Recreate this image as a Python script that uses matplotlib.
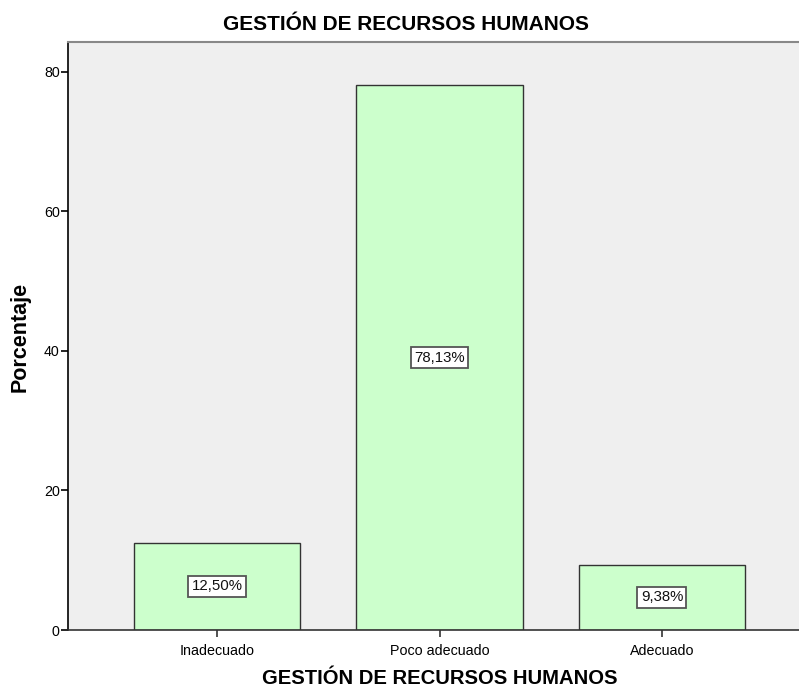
import matplotlib
matplotlib.use("Agg")
import matplotlib.pyplot as plt

plt.rcParams['font.family'] = ['Liberation Sans', 'DejaVu Sans']

categories = ["Inadecuado", "Poco adecuado", "Adecuado"]
percentages = [12.50, 78.13, 9.38]
y_ticks = [0, 20, 40, 60, 80]
title = "GESTIÓN DE RECURSOS HUMANOS"

W, H = 799, 694
fig = plt.figure(figsize=(W / 100, H / 100), dpi=100)
ax = fig.add_axes([68 / W, 64 / H, (W - 68) / W, 588 / H])
ax.set_facecolor("#EFEFEF")

x = list(range(len(categories)))
ax.bar(x, percentages, width=0.75, color="#CCFFCC", edgecolor="#333333",
       linewidth=1.0, zorder=2)

for xi, v in zip(x, percentages):
    label = f"{v:.2f}%".replace(".", ",")
    ax.text(xi, v / 2, label, ha="center", va="center", fontsize=10.8,
            color="#111111", zorder=3,
            bbox=dict(boxstyle="square,pad=0.22", facecolor="white",
                      edgecolor="#555555", linewidth=1.3))

ax.set_xlim(-0.67, 2.616)
ax.set_ylim(0, 84.3)
ax.set_xticks(x)
ax.set_xticklabels(categories, fontsize=10.3)
ax.set_yticks(y_ticks)
ax.set_yticklabels([str(t) for t in y_ticks], fontsize=10.3)
ax.tick_params(axis="y", length=5, width=1.2, color="black", pad=1)
ax.tick_params(axis="x", length=5, width=1.2, color="#333333", pad=5)

ax.spines["right"].set_visible(False)
ax.spines["top"].set_color("#888888")
ax.spines["top"].set_linewidth(1.5)
ax.spines["left"].set_color("black")
ax.spines["left"].set_linewidth(1.2)
ax.spines["bottom"].set_color("#333333")
ax.spines["bottom"].set_linewidth(1.2)

fig.suptitle(title, x=406 / W, y=1 - 25 / H, va="center", ha="center",
             fontsize=15, fontweight="bold")
ax.set_xlabel(title, fontsize=14.6, fontweight="bold", va="center")
ax.xaxis.set_label_coords((440 - 68) / 731, (630 - 678) / 588)
ax.set_ylabel("Porcentaje", fontsize=15.5, fontweight="bold", va="center")
ax.yaxis.set_label_coords((20 - 68) / 731, (630 - 337) / 588)

fig.savefig("out.png", dpi=100)
